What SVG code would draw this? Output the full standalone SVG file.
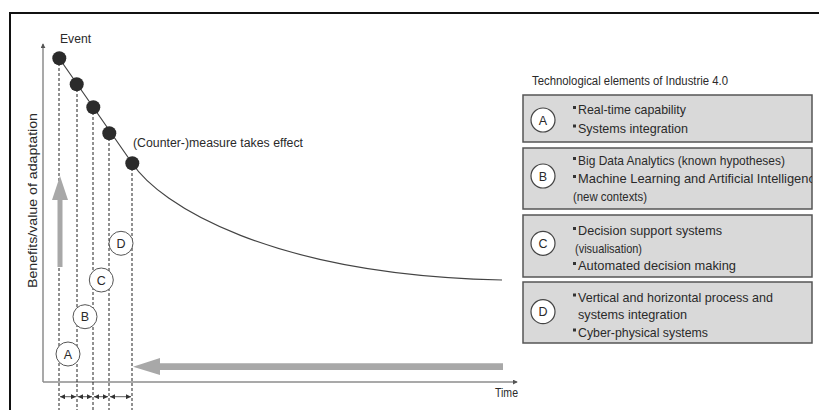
<svg xmlns="http://www.w3.org/2000/svg" width="819" height="410" viewBox="0 0 819 410">
  <style>
    text { font-family: "Liberation Sans", Arial, sans-serif; fill: #2a2a2a; }
    .lbl { font-size: 12.5px; }
    .item { font-size: 13px; }
    .axis { stroke: #8c8c8c; stroke-width: 1.5; fill: none; }
    .guide { stroke: #222; stroke-width: 1; stroke-dasharray: 3 2; fill: none; }
    .dot { fill: #2b2b2b; }
    .tag { fill: #fff; stroke: #555; stroke-width: 1; }
    .tagtxt { font-size: 12.5px; text-anchor: middle; }
    .box { fill: #d9d9d9; stroke: #555; stroke-width: 1.5; }
    .bigtag { fill: #fff; stroke: #444; stroke-width: 1.2; }
    .bullet { fill: #333; }
    .big { fill: #a8a8a8; }
    .dim { stroke: #333; stroke-width: 0.8; marker-start: url(#tip); marker-end: url(#tip); }
  </style>
  <defs>
    <marker id="tip" viewBox="0 0 6 6" refX="6" refY="3" markerWidth="5" markerHeight="5" orient="auto-start-reverse" markerUnits="userSpaceOnUse">
      <path d="M0,0 L6,3 L0,6 Z" fill="#333"/>
    </marker>
    <marker id="axtip" viewBox="0 0 6 6" refX="5" refY="3" markerWidth="5" markerHeight="5" orient="auto" markerUnits="userSpaceOnUse">
      <path d="M0,0 L6,3 L0,6 Z" fill="#555"/>
    </marker>
    <clipPath id="clipB"><rect x="523" y="148" width="289" height="61"/></clipPath>
  </defs>

  <!-- page frame -->
  <path d="M10,410 L10,13 L819,13" fill="none" stroke="#111" stroke-width="2"/>

  <!-- axes -->
  <g id="axes">
    <path class="axis" d="M43,382 L43,44" marker-end="url(#axtip)"/>
    <path class="axis" d="M43,382 L517,382" marker-end="url(#axtip)"/>
    <text class="lbl" x="37" y="200.5" text-anchor="middle" transform="rotate(-90 37 200.5)" textLength="175" lengthAdjust="spacingAndGlyphs">Benefits/value of adaptation</text>
    <text class="lbl" x="495" y="397" textLength="23" lengthAdjust="spacingAndGlyphs">Time</text>
  </g>

  <!-- connectors: curve, guides, dimension arrows, big arrows -->
  <g id="connectors">
    <path d="M59,58 L132,163 C160,205 270,275 502,280" fill="none" stroke="#444" stroke-width="1.2"/>
    <path class="guide" d="M59,58 V410 M77,84 V410 M93,107 V410 M109,133 V410 M132,163 V410"/>
    <line class="dim" x1="60" y1="396.7" x2="76" y2="396.7"/>
    <line class="dim" x1="78" y1="396.7" x2="92" y2="396.7"/>
    <line class="dim" x1="94" y1="396.7" x2="108" y2="396.7"/>
    <line class="dim" x1="110" y1="396.7" x2="131" y2="396.7"/>
    <!-- upward benefit arrow -->
    <path class="big" d="M57.5,267 L57.5,200 L52,200 L60,176 L68,200 L62.5,200 L62.5,267 Z"/>
    <!-- leftward time arrow -->
    <path class="big" d="M503,363.3 L160,363.3 L160,358 L133,366.7 L160,375 L160,370 L503,370 Z"/>
  </g>

  <!-- curve points -->
  <g id="event">
    <circle class="dot" cx="59.3" cy="58.3" r="7"/>
    <text class="lbl" x="60" y="43" textLength="31" lengthAdjust="spacingAndGlyphs">Event</text>
  </g>
  <g id="p2"><circle class="dot" cx="76.7" cy="84.3" r="7"/></g>
  <g id="p3"><circle class="dot" cx="93.3" cy="107.3" r="7"/></g>
  <g id="p4"><circle class="dot" cx="109.3" cy="133.3" r="7"/></g>
  <g id="effect">
    <circle class="dot" cx="132.3" cy="163.3" r="7"/>
    <text class="lbl" x="133" y="146.5" textLength="170" lengthAdjust="spacingAndGlyphs">(Counter-)measure takes effect</text>
  </g>

  <!-- phase markers on the chart -->
  <g id="tagA"><circle class="tag" cx="68" cy="354" r="12"/><text class="tagtxt" x="68" y="358.5">A</text></g>
  <g id="tagB"><circle class="tag" cx="85" cy="316.7" r="12"/><text class="tagtxt" x="85" y="321.2">B</text></g>
  <g id="tagC"><circle class="tag" cx="101.3" cy="280" r="12"/><text class="tagtxt" x="101.3" y="284.5">C</text></g>
  <g id="tagD"><circle class="tag" cx="121" cy="243.3" r="12"/><text class="tagtxt" x="121" y="247.8">D</text></g>

  <!-- legend -->
  <g id="legend-title">
    <text class="lbl" x="532" y="85" textLength="196" lengthAdjust="spacingAndGlyphs">Technological elements of Industrie 4.0</text>
  </g>

  <g id="boxA">
    <rect class="box" x="523" y="95" width="289" height="47"/>
    <circle class="bigtag" cx="543" cy="120" r="12"/>
    <text class="tagtxt" x="543" y="124.5">A</text>
    <rect class="bullet" x="573" y="106" width="3" height="3"/>
    <text class="item" x="578" y="114" textLength="108" lengthAdjust="spacingAndGlyphs">Real-time capability</text>
    <rect class="bullet" x="573" y="124.5" width="3" height="3"/>
    <text class="item" x="578" y="132.7" textLength="110" lengthAdjust="spacingAndGlyphs">Systems integration</text>
  </g>

  <g id="boxB">
    <rect class="box" x="523" y="148" width="289" height="61"/>
    <circle class="bigtag" cx="543" cy="176" r="12"/>
    <text class="tagtxt" x="543" y="180.5">B</text>
    <rect class="bullet" x="573" y="157" width="3" height="3"/>
    <text class="item" x="578" y="165" textLength="207" lengthAdjust="spacingAndGlyphs">Big Data Analytics (known hypotheses)</text>
    <rect class="bullet" x="573" y="175" width="3" height="3"/>
    <g clip-path="url(#clipB)">
      <text class="item" x="578" y="183.3" textLength="244" lengthAdjust="spacingAndGlyphs">Machine Learning and Artificial Intelligence</text>
    </g>
    <text class="item" x="573" y="200.7" textLength="74" lengthAdjust="spacingAndGlyphs">(new contexts)</text>
  </g>

  <g id="boxC">
    <rect class="box" x="523" y="215" width="289" height="62"/>
    <circle class="bigtag" cx="543" cy="243.3" r="12"/>
    <text class="tagtxt" x="543" y="247.8">C</text>
    <rect class="bullet" x="573" y="227" width="3" height="3"/>
    <text class="item" x="578" y="235" textLength="144" lengthAdjust="spacingAndGlyphs">Decision support systems</text>
    <text class="item" x="575" y="252.7" textLength="67" lengthAdjust="spacingAndGlyphs">(visualisation)</text>
    <rect class="bullet" x="573" y="262" width="3" height="3"/>
    <text class="item" x="578" y="270" textLength="158" lengthAdjust="spacingAndGlyphs">Automated decision making</text>
  </g>

  <g id="boxD">
    <rect class="box" x="523" y="282" width="289" height="61"/>
    <circle class="bigtag" cx="543" cy="311.7" r="12"/>
    <text class="tagtxt" x="543" y="316.2">D</text>
    <rect class="bullet" x="573" y="293.5" width="3" height="3"/>
    <text class="item" x="578" y="301.7" textLength="195" lengthAdjust="spacingAndGlyphs">Vertical and horizontal process and</text>
    <text class="item" x="578" y="319" textLength="109" lengthAdjust="spacingAndGlyphs">systems integration</text>
    <rect class="bullet" x="573" y="328.5" width="3" height="3"/>
    <text class="item" x="578" y="336.7" textLength="130" lengthAdjust="spacingAndGlyphs">Cyber-physical systems</text>
  </g>
</svg>
